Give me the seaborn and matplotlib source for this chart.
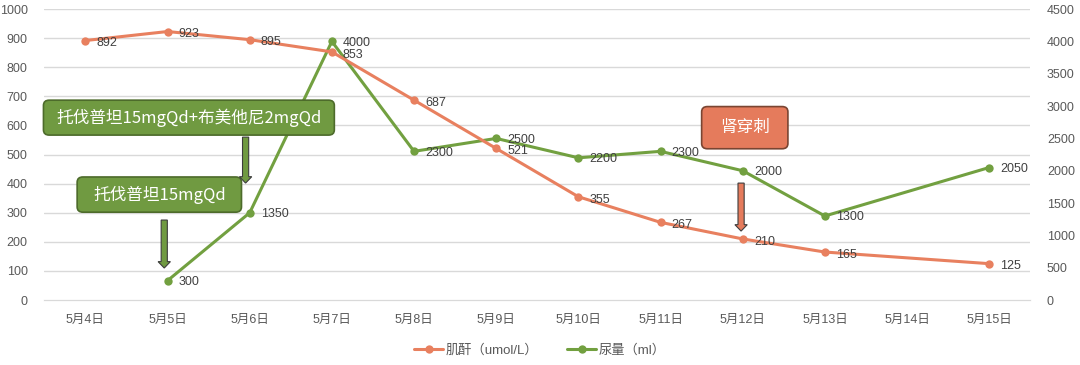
import numpy as np
import pandas as pd
import matplotlib.pyplot as plt
import seaborn as sns
from matplotlib.patches import FancyBboxPatch, FancyArrow
from matplotlib.lines import Line2D

# dane z wykresu
dates = ['5月4日', '5月5日', '5月6日', '5月7日', '5月8日', '5月9日',
         '5月10日', '5月11日', '5月12日', '5月13日', '5月14日', '5月15日']
creatinine = [892, 923, 895, 853, 687, 521, 355, 267, 210, 165, None, 125]
urine = [None, 300, 1350, 4000, 2300, 2500, 2200, 2300, 2000, 1300, None, 2050]
left_ticks = list(range(0, 1001, 100))
right_ticks = list(range(0, 4501, 500))

orange = '#E8805F'
green = '#72A040'
gray = '#595959'

sns.set_style('white')
plt.rcParams['font.family'] = ['Liberation Sans', 'Noto Sans CJK SC', 'DejaVu Sans']

df = pd.DataFrame({'pos': np.arange(len(dates)), 'date': dates,
                   'cr': creatinine, 'ur': urine})
df_cr = df.dropna(subset=['cr'])
df_ur = df.dropna(subset=['ur'])

fig = plt.figure(figsize=(10.8, 3.65), dpi=100)
ax = fig.add_axes([0.041, 0.178, 0.913, 0.797])
ax2 = ax.twinx()
# os lewa (pomaranczowa linia, ramki) nad prawa
ax.set_zorder(ax2.get_zorder() + 1)
ax.patch.set_visible(False)

sns.lineplot(data=df_cr, x='pos', y='cr', ax=ax, color=orange, marker='o',
             markersize=6, markeredgewidth=0, linewidth=2.2, sort=False)
sns.lineplot(data=df_ur, x='pos', y='ur', ax=ax2, color=green, marker='o',
             markersize=6, markeredgewidth=0, linewidth=2.2, sort=False)

ax.set_xlim(-0.5, len(dates) - 0.5)
ax.set_ylim(0, 1000)
ax2.set_ylim(0, 4500)
ax.set_yticks(left_ticks)
ax2.set_yticks(right_ticks)
ax.set_xticks(range(len(dates)))
ax.set_xticklabels(dates)
ax.set_xticks(np.arange(-0.5, len(dates), 1), minor=True)
ax.tick_params(axis='x', which='major', length=0, pad=10, labelsize=9, labelcolor=gray)
ax.tick_params(axis='x', which='minor', length=4, color='#d9d9d9', width=1)
ax.tick_params(axis='y', length=0, labelsize=9, labelcolor=gray, pad=12)
ax2.tick_params(axis='y', length=0, labelsize=9, labelcolor=gray, pad=12)
ax.set_xlabel('')
ax.set_ylabel('')
ax2.set_ylabel('')
# siatka pod zielona linia
for t in left_ticks[1:]:
    ax2.axhline(t * 4.5, color='#d9d9d9', linewidth=1, zorder=0)
for a in (ax, ax2):
    for s in ['top', 'left', 'right']:
        a.spines[s].set_visible(False)
    a.spines['bottom'].set_color('#d9d9d9')

# etykiety wartości
for p, v in zip(df_cr['pos'], df_cr['cr']):
    ax.annotate(f'{int(v)}', (p, v), xytext=(8, -2), textcoords='offset points',
                va='center', ha='left', fontsize=9, color='#404040')
for p, v in zip(df_ur['pos'], df_ur['ur']):
    ax2.annotate(f'{int(v)}', (p, v), xytext=(8, -1), textcoords='offset points',
                 va='center', ha='left', fontsize=9, color='#404040')

# ramki z opisami
def box(x0, y0, w, h, text, fc, ec, fs):
    ax.add_patch(FancyBboxPatch((x0, y0), w, h, boxstyle='round,pad=0,rounding_size=0.07',
                                mutation_aspect=260, fc=fc, ec=ec, lw=1.2, zorder=5,
                                clip_on=False))
    ax.text(x0 + w / 2, y0 + h / 2, text, ha='center', va='center', color='white',
            fontsize=fs, zorder=6, family=['Noto Sans CJK SC', 'DejaVu Sans'])

box(-0.51, 567, 3.54, 120, '托伐普坦15mgQd+布美他尼2mgQd', '#709A41', '#4D6B2B', 12)
box(-0.1, 302, 2.0, 121, '托伐普坦15mgQd', '#709A41', '#4D6B2B', 12)
box(7.5, 520, 1.05, 145, '肾穿刺', '#E57B5C', '#7A4532', 12)

# strzałki
def arrow(x, y0, y1, fc):
    ax.add_patch(FancyArrow(x, y0, 0, y1 - y0, width=0.075, head_width=0.15,
                            head_length=22, length_includes_head=True,
                            fc=fc, ec='#3d3d3d', lw=0.8, zorder=5))

arrow(0.96, 275, 110, '#709A41')
arrow(1.95, 560, 402, '#709A41')
arrow(7.98, 402, 237, '#E57B5C')

# legenda
handles = [Line2D([], [], color=orange, marker='o', markersize=6, lw=2.2, markeredgewidth=0),
           Line2D([], [], color=green, marker='o', markersize=6, lw=2.2, markeredgewidth=0)]
fig.legend(handles, ['肌酐（umol/L）', '尿量（ml）'], loc='center', ncol=2,
           bbox_to_anchor=(0.5, 0.04), frameon=False, fontsize=9.5,
           labelcolor=gray, handlelength=2.2, handletextpad=0.2, columnspacing=2.2)

fig.savefig('out.png', dpi=100)
